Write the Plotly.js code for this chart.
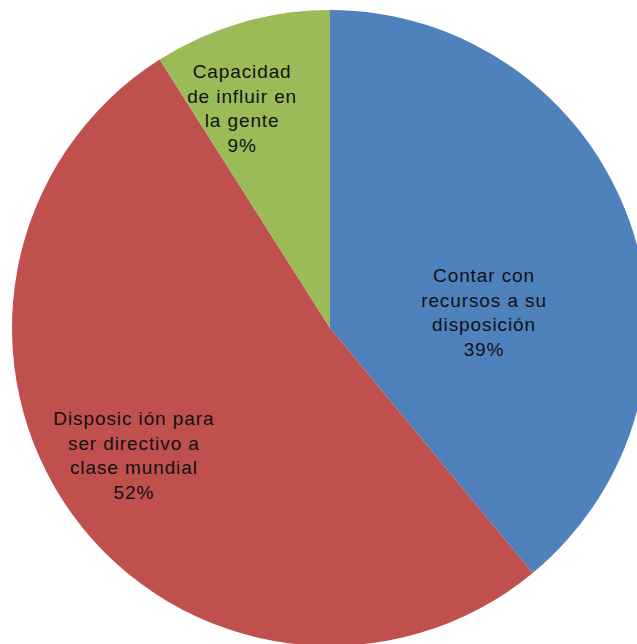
<!DOCTYPE html>
<html>
<head>
<meta charset="utf-8">
<script src="https://cdn.plot.ly/plotly-3.0.1.min.js"></script>
<style>
html, body { margin: 0; padding: 0; overflow: hidden; background: #fff; }
#chart { width: 660px; height: 660px; }
#chart .annotation-text { letter-spacing: 0.9px; }
</style>
</head>
<body>
<div id="chart"></div>
<script>
var categories = ["Contar con recursos a su disposición", "Disposic ión para ser directivo a clase mundial", "Capacidad de influir en la gente"];
var labelLines = [
  ["Contar con", "recursos a su", "disposición"],
  ["Disposic ión para", "ser directivo a", "clase mundial"],
  ["Capacidad", "de influir en", "la gente"]
];
var values = [39, 52, 9];
var colors = ["#4F81BD", "#C0504D", "#9BBB59"];

// label anchor positions (paper fractions), layout only
var labelPos = [[0.7414, 0.5236], [0.1911, 0.3003], [0.3624, 0.8459]];

var total = values.reduce(function (a, b) { return a + b; }, 0);
var annotations = values.map(function (v, i) {
  return {
    xref: "paper", yref: "paper",
    x: labelPos[i][0], y: labelPos[i][1],
    xanchor: "center", yanchor: "middle",
    showarrow: false,
    align: "center",
    text: labelLines[i].join("<br>") + "<br>" + Math.round(v / total * 100) + "%",
    font: { family: "Liberation Sans, Arial, sans-serif", size: 19, color: "#111111" }
  };
});

var trace = {
  type: "pie",
  labels: categories,
  values: values,
  sort: false,
  direction: "clockwise",
  rotation: 0,
  textinfo: "none",
  hoverinfo: "label+percent",
  marker: { colors: colors, line: { color: "#ffffff", width: 0 } },
  showlegend: false
};

var layout = {
  width: 660,
  height: 660,
  margin: { l: 12, r: 12, t: 10, b: 14, pad: 0 },
  paper_bgcolor: "#ffffff",
  plot_bgcolor: "#ffffff",
  showlegend: false,
  annotations: annotations
};

Plotly.newPlot("chart", [trace], layout, { displayModeBar: false, staticPlot: true });
</script>
</body>
</html>
